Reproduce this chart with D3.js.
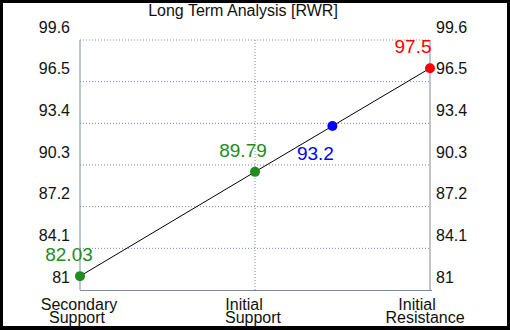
<!DOCTYPE html>
<html>
<head>
<meta charset="utf-8">
<script src="https://cdn.jsdelivr.net/npm/d3@7"></script>
<style>
  html, body { margin: 0; padding: 0; background: #000; }
  svg { display: block; }
  text { font-family: "Liberation Sans", Arial, sans-serif; }
</style>
</head>
<body>
<div id="vis"></div>
<script>
var title = "Long Term Analysis [RWR]";
var categories = [["Secondary", "Support"], ["Initial", "Support"], ["Initial", "Resistance"]];
var levels = [82.03, 89.79, 97.5];
var levelColors = ["#228b22", "#228b22", "#ff0000"];
var currentPrice = 93.2;
var tickLabels = ["81", "84.1", "87.2", "90.3", "93.4", "96.5", "99.6"];
var yMin = 81, yMax = 99.6;

var margin = {top: 40, right: 80, bottom: 40, left: 80};
var W = 510, H = 330;

var svg = d3.select("div#vis").append("svg")
  .attr("width", W).attr("height", H);

svg.append("rect").attr("x", 3).attr("y", 3).attr("width", 504).attr("height", 323).attr("fill", "#fff");

var x = d3.scaleLinear().domain([0, categories.length - 1]).range([margin.left, W - margin.right]);
var y = d3.scaleLinear().domain([yMin, yMax]).range([H - margin.bottom, margin.top]);
var tickVals = tickLabels.map(function(d) { return +d; });

var g = svg.append("g");
var gridColor = "#7d8aa6";

// horizontal grid
g.selectAll("line.h").data(tickVals.slice(1)).enter().append("line")
  .attr("x1", x(0)).attr("x2", x(2))
  .attr("y1", function(d) { return y(d); }).attr("y2", function(d) { return y(d); })
  .attr("stroke", gridColor).attr("stroke-dasharray", "1,2");

// vertical grid
g.append("line").attr("x1", x(1)).attr("x2", x(1)).attr("y1", y(yMin)).attr("y2", y(yMax))
  .attr("stroke", gridColor).attr("stroke-dasharray", "1,2");

// axes
g.append("line").attr("x1", x(0)).attr("x2", x(0)).attr("y1", y(yMax)).attr("y2", y(yMin)).attr("stroke", gridColor);
g.append("line").attr("x1", x(2)).attr("x2", x(2)).attr("y1", y(yMax)).attr("y2", y(yMin)).attr("stroke", gridColor);
g.append("line").attr("x1", x(0)).attr("x2", x(2) + 2).attr("y1", y(yMin) + 0.5).attr("y2", y(yMin) + 0.5).attr("stroke", gridColor);

// tick labels, both sides
g.selectAll("text.yl").data(tickLabels).enter().append("text")
  .attr("x", x(0) - 10).attr("y", function(d) { return y(+d) - 13; })
  .attr("dy", "0.35em").attr("text-anchor", "end").attr("font-size", 16).attr("fill", "#111")
  .text(function(d) { return d; });
g.selectAll("text.yr").data(tickLabels).enter().append("text")
  .attr("x", x(2) + 6).attr("y", function(d) { return y(+d) - 13; })
  .attr("dy", "0.35em").attr("text-anchor", "start").attr("font-size", 16).attr("fill", "#111")
  .text(function(d) { return d; });

// x labels
var firstLineDx = [-1, -11, -13];
var secondLineDx = [-3, -2, -5];
var xl = g.selectAll("text.xl").data(categories).enter().append("text")
  .attr("text-anchor", "middle").attr("font-size", 16).attr("fill", "#111")
  .attr("transform", function(d, i) { return "translate(" + x(i) + "," + (y(yMin) + 20) + ")"; });
xl.append("tspan").attr("x", function(d, i) { return firstLineDx[i]; }).attr("y", 0).text(function(d) { return d[0]; });
xl.append("tspan").attr("x", function(d, i) { return secondLineDx[i]; }).attr("y", 13).text(function(d) { return d[1]; });

// title
svg.append("text").attr("x", 243).attr("y", 16).attr("text-anchor", "middle")
  .attr("font-size", 16).attr("fill", "#111").text(title);

// line
var line = d3.line().x(function(d, i) { return x(i); }).y(function(d) { return y(d); });
g.append("path").datum(levels).attr("d", line).attr("fill", "none").attr("stroke", "#000").attr("stroke-width", 1);

// points
g.selectAll("circle.lv").data(levels).enter().append("circle")
  .attr("cx", function(d, i) { return x(i); }).attr("cy", function(d) { return y(d); })
  .attr("r", 5).attr("fill", function(d, i) { return levelColors[i]; });

var labelDx = [-11, -12, -17];
g.selectAll("text.lv").data(levels).enter().append("text")
  .attr("x", function(d, i) { return x(i) + labelDx[i]; })
  .attr("y", function(d) { return y(d) - 15; })
  .attr("text-anchor", "middle").attr("font-size", 19)
  .attr("fill", function(d, i) { return levelColors[i]; })
  .text(function(d) { return d; });

// current price on the line between initial support and resistance
var t = (currentPrice - levels[1]) / (levels[2] - levels[1]);
var cx = x(1 + t), cy = y(currentPrice);
g.append("circle").attr("cx", cx).attr("cy", cy).attr("r", 5).attr("fill", "#0000ff");
g.append("text").attr("x", cx - 17).attr("y", cy + 34).attr("text-anchor", "middle")
  .attr("font-size", 19).attr("fill", "#0000ff").text(currentPrice);
</script>
</body>
</html>
